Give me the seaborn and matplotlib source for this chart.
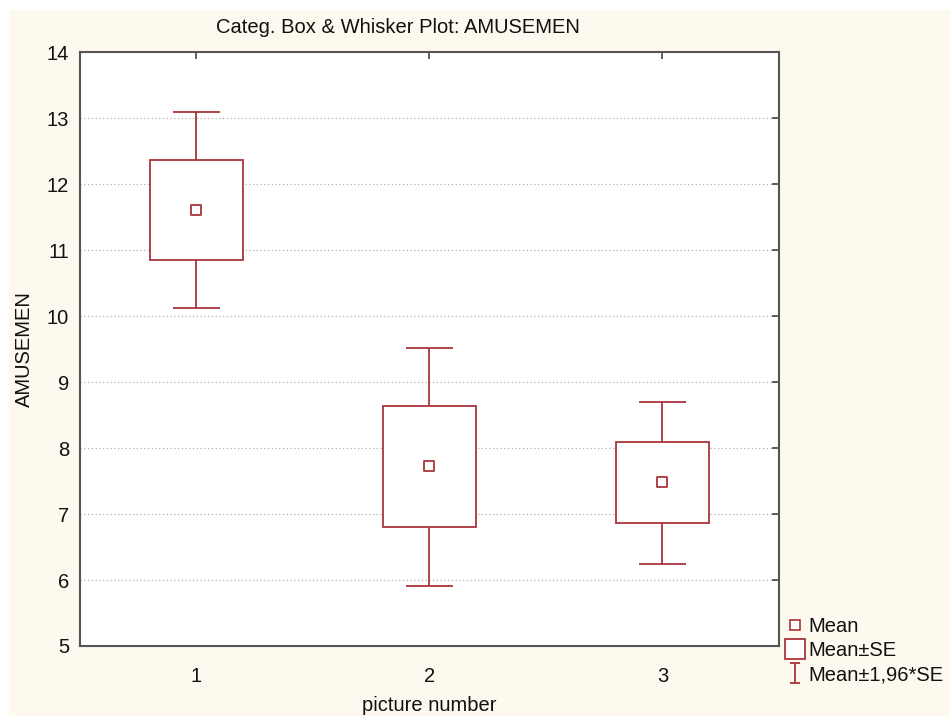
import numpy as np
import pandas as pd
import matplotlib
matplotlib.use("Agg")
import matplotlib.pyplot as plt
import seaborn as sns
from matplotlib.path import Path
from matplotlib.lines import Line2D

# Data
groups = [1, 2, 3]
means = [11.61, 7.73, 7.48]
se_low = [10.85, 6.80, 6.86]
se_high = [12.36, 8.64, 8.09]
ci_low = [10.12, 5.91, 6.24]
ci_high = [13.09, 9.52, 8.70]
yticks = [5, 6, 7, 8, 9, 10, 11, 12, 13, 14]

df = pd.DataFrame({"picture number": groups, "AMUSEMEN": means})

red = "#a8353a"
bg = "#fef9ee"

sns.set_style("white")
plt.rcParams["font.family"] = ["Liberation Sans", "DejaVu Sans"]

fig = plt.figure(figsize=(9.5, 7.16), dpi=100)
fig.patch.set_facecolor("white")
fig.add_artist(plt.Rectangle((0.009, 0), 0.991, 0.986, transform=fig.transFigure,
                             facecolor=bg, edgecolor="none", zorder=-10))
ax = fig.add_axes([0.0842, 0.0978, 0.7358, 0.8292])
ax.set_facecolor("white")

# whiskers (Mean +/- 1.96*SE)
x = np.array(groups, dtype=float)
ax.vlines(x, ci_low, ci_high, color=red, lw=1.3, zorder=2)
ax.hlines(ci_low, x - 0.1, x + 0.1, color=red, lw=1.3, zorder=2)
ax.hlines(ci_high, x - 0.1, x + 0.1, color=red, lw=1.3, zorder=2)
# boxes (Mean +/- SE)
ax.bar(x, np.array(se_high) - np.array(se_low), bottom=se_low, width=0.4,
       facecolor="white", edgecolor=red, linewidth=1.3, zorder=3)
# means
sns.scatterplot(data=df, x="picture number", y="AMUSEMEN", ax=ax, marker="s",
                s=60, facecolor="white", edgecolor=red, linewidth=1.3, zorder=4,
                legend=False)

ax.set_xlim(0.5, 3.5)
ax.set_ylim(5, 14)
ax.set_xticks(groups)
ax.set_yticks(yticks)
ax.yaxis.grid(True, color="#b0b0b0", linestyle=(0, (1, 2)), lw=0.9)
ax.set_axisbelow(True)
ax.tick_params(axis="both", direction="in", length=5, width=1.2, color="#444444",
               top=True, right=True, labelsize=14.5, labelcolor="#111111")
ax.tick_params(axis="y", pad=8)
ax.tick_params(axis="x", pad=15)
for s in ax.spines.values():
    s.set_color("#555555")
    s.set_linewidth(1.5)
ax.set_xlabel("picture number", fontsize=14.5, labelpad=7, color="#111111")
ax.set_ylabel("AMUSEMEN", fontsize=14.5, labelpad=9, color="#111111")
fig.text(0.419, 0.962, "Categ. Box & Whisker Plot: AMUSEMEN", ha="center", va="center",
         fontsize=14.5, color="#111111")

ibeam = Path([(-0.5, -1), (0.5, -1), (0, -1), (0, 1), (-0.5, 1), (0.5, 1)],
             [Path.MOVETO, Path.LINETO, Path.MOVETO, Path.LINETO, Path.MOVETO, Path.LINETO])
handles = [
    Line2D([], [], ls="none", marker="s", ms=7, mfc="white", mec=red, mew=1.2),
    Line2D([], [], ls="none", marker="s", ms=15, mfc="white", mec=red, mew=1.3),
    Line2D([], [], ls="none", marker=ibeam, ms=14, mfc="none", mec=red, mew=1.3),
]
fig.legend(handles, ["Mean", "Mean±SE", "Mean±1,96*SE"], loc="lower left",
           bbox_to_anchor=(0.8165, 0.03), frameon=False, fontsize=14.5,
           handlelength=0.9, handletextpad=0.2, labelspacing=0.25, borderpad=0,
           labelcolor="#111111")

fig.savefig("out.png", dpi=100, facecolor=fig.get_facecolor())
